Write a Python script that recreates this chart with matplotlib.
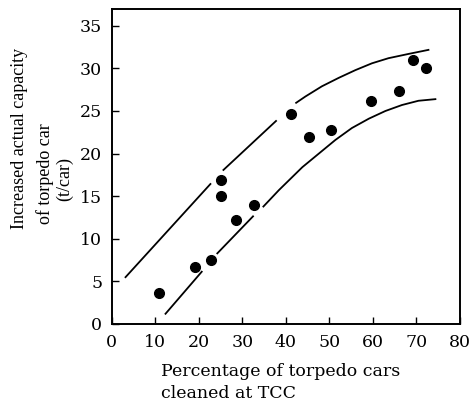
import matplotlib
matplotlib.use("Agg")
import matplotlib.pyplot as plt

plt.rcParams['font.family'] = ['DejaVu Serif']

# Measured points
pct_cleaned = [10.9, 19.1, 22.9, 25.2, 25.0, 28.5, 32.7, 41.1, 45.4, 50.3, 59.5, 66.0, 69.3, 72.3]
capacity = [3.6, 6.7, 7.5, 16.9, 15.0, 12.2, 13.9, 24.7, 22.0, 22.8, 26.2, 27.3, 31.0, 30.0]

# Upper band curve (drawn in pieces, broken around the dots)
upper_x = [[3.0, 22.8], [25.5, 37.9],
           [42.2, 44.5, 48.3, 52.2, 56.0, 59.8, 63.6, 68.2, 73.0]]
upper_y = [[5.4, 16.5], [18.0, 23.9],
           [25.9, 26.7, 27.9, 28.9, 29.8, 30.6, 31.2, 31.7, 32.2]]

# Lower band curve
lower_x = [[12.2, 20.8], [24.1, 32.6],
           [34.7, 38.4, 43.8, 47.6, 51.4, 55.2, 59.1, 62.9, 66.7, 70.5, 74.6]]
lower_y = [[1.1, 6.2], [8.2, 12.7],
           [13.7, 15.7, 18.4, 20.0, 21.6, 23.0, 24.1, 25.0, 25.7, 26.2, 26.4]]

xticks = [0, 10, 20, 30, 40, 50, 60, 70, 80]
yticks = [0, 5, 10, 15, 20, 25, 30, 35]

ylabel_lines = ["Increased actual capacity", "of torpedo car", "(t/car)"]

fig = plt.figure(figsize=(4.74, 4.2), dpi=100)
ax = fig.add_axes([0.236, 0.229, 0.734, 0.75])

for xs, ys in zip(upper_x, upper_y):
    ax.plot(xs, ys, color='black', lw=1.3, solid_capstyle='butt')
for xs, ys in zip(lower_x, lower_y):
    ax.plot(xs, ys, color='black', lw=1.3, solid_capstyle='butt')

ax.plot(pct_cleaned, capacity, 'o', color='black', ms=7)

ax.set_xlim(0, 80)
ax.set_ylim(0, 37)
ax.set_xticks(xticks)
ax.set_yticks(yticks)
ax.tick_params(direction='in', length=5, width=1, labelsize=12.5, pad=7)
for s in ax.spines.values():
    s.set_linewidth(1.4)

ax.set_xlabel("Percentage of torpedo cars\ncleaned at TCC", fontsize=12.5,
              multialignment='left', labelpad=8, linespacing=1.35)
ax.xaxis.set_label_coords(0.485, -0.125, transform=ax.transAxes)
ax.xaxis.label.set_va('top')

# y label: three lines, as laid out in the original (first line sits higher)
ypos = [(20, 138), (45, 174), (65, 179)]
for txt, (px, py) in zip(ylabel_lines, ypos):
    fig.text(px / 474, 1 - py / 420, txt, rotation=90, fontsize=13,
             family='Liberation Serif', ha='center', va='center')

fig.savefig("out.png", dpi=100)
